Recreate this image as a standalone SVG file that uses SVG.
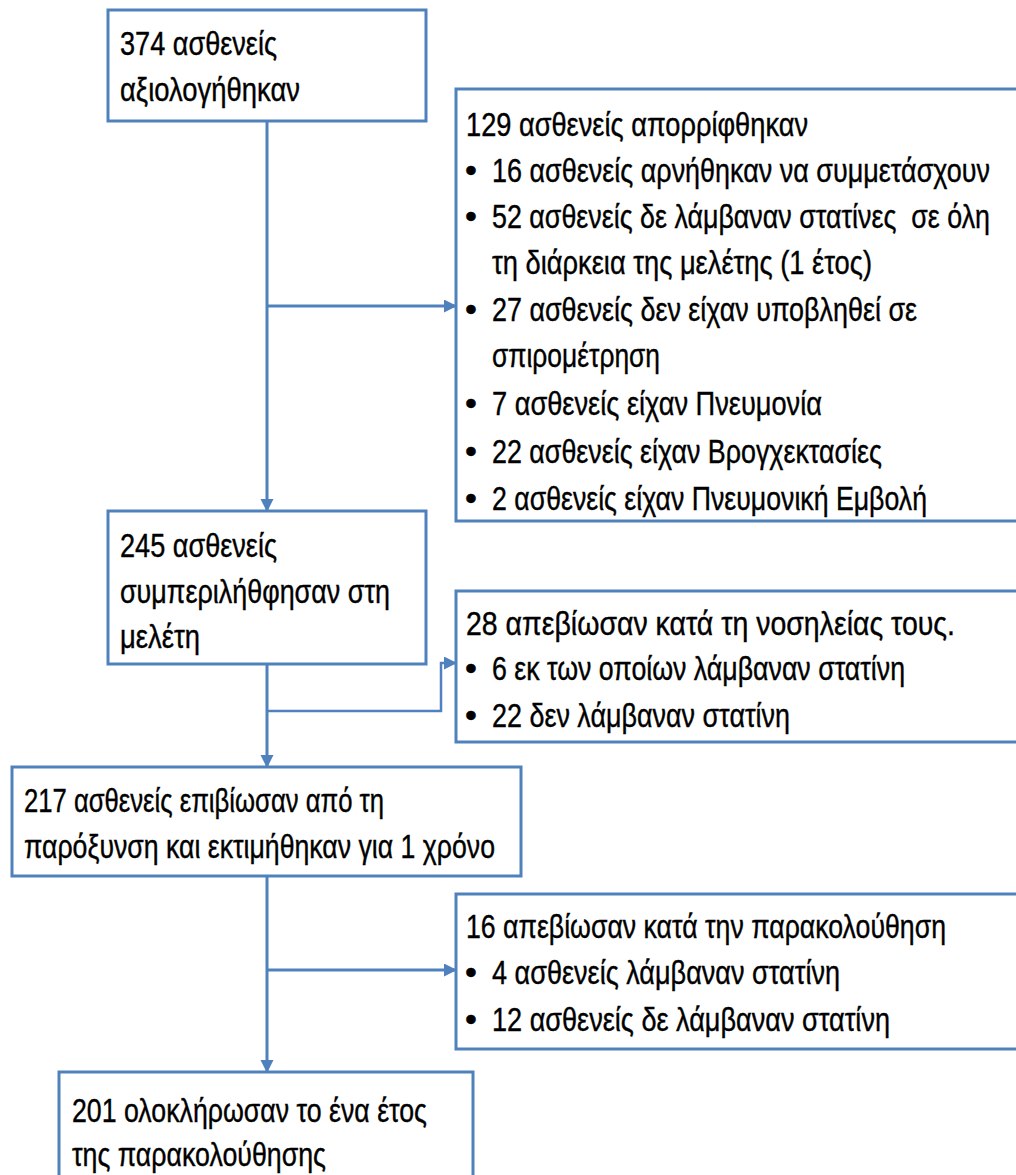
<svg xmlns="http://www.w3.org/2000/svg" width="1016" height="1175" viewBox="0 0 1016 1175">
<style>
.box{fill:#fff;stroke:#4F81BD;stroke-width:3}
.t{font-family:"Liberation Sans",Arial,sans-serif;font-size:34px;fill:#000;stroke:#000;stroke-width:0.4}
.c{fill:none;stroke:#4F81BD;stroke-width:3}
</style>
<defs>
<marker id="ah" markerUnits="userSpaceOnUse" markerWidth="14" markerHeight="14" refX="12" refY="6.5" orient="auto">
<path d="M0,0 L13,6.5 L0,13 Z" fill="#4F81BD"/>
</marker>
</defs>
<g id="connectors">
<path class="c" d="M267,121 V511" marker-end="url(#ah)"/>
<path class="c" d="M267,306 H456" marker-end="url(#ah)"/>
<path class="c" d="M267,664 V767" marker-end="url(#ah)"/>
<path class="c" style="stroke-width:2.5" d="M267,711 H441 V663 H456" marker-end="url(#ah)"/>
<path class="c" d="M267,876 V1072" marker-end="url(#ah)"/>
<path class="c" d="M267,970 H456" marker-end="url(#ah)"/>
</g>
<g id="n374">
<rect class="box" x="108" y="10" width="318" height="111"/>
<text class="t" transform="matrix(0.8 0 0 1 120 55)" textLength="196.25" lengthAdjust="spacingAndGlyphs">374 ασθενείς</text>
<text class="t" transform="matrix(0.8 0 0 1 120 101)" textLength="225" lengthAdjust="spacingAndGlyphs">αξιολογήθηκαν</text>
</g>
<g id="n129">
<rect class="box" x="456" y="89" width="562" height="432"/>
<text class="t" transform="matrix(0.8 0 0 1 466 136)" textLength="427.5" lengthAdjust="spacingAndGlyphs">129 ασθενείς απορρίφθηκαν</text>
<text class="t" x="465" y="182">•</text>
<text class="t" transform="matrix(0.8 0 0 1 492 182)" textLength="622.5" lengthAdjust="spacingAndGlyphs">16 ασθενείς αρνήθηκαν να συμμετάσχουν</text>
<text class="t" x="465" y="228">•</text>
<text class="t" transform="matrix(0.8 0 0 1 492 228)" textLength="622.5" lengthAdjust="spacingAndGlyphs" style="white-space:pre">52 ασθενείς δε λάμβαναν στατίνες  σε όλη</text>
<text class="t" transform="matrix(0.8 0 0 1 492 274)" textLength="475" lengthAdjust="spacingAndGlyphs">τη διάρκεια της μελέτης (1 έτος)</text>
<text class="t" x="465" y="321">•</text>
<text class="t" transform="matrix(0.8 0 0 1 492 321)" textLength="531.25" lengthAdjust="spacingAndGlyphs">27 ασθενείς δεν είχαν υποβληθεί σε</text>
<text class="t" transform="matrix(0.8 0 0 1 492 367)" textLength="210" lengthAdjust="spacingAndGlyphs">σπιρομέτρηση</text>
<text class="t" x="465" y="415">•</text>
<text class="t" transform="matrix(0.8 0 0 1 492 415)" textLength="412.5" lengthAdjust="spacingAndGlyphs">7 ασθενείς είχαν Πνευμονία</text>
<text class="t" x="465" y="463">•</text>
<text class="t" transform="matrix(0.8 0 0 1 492 463)" textLength="487.5" lengthAdjust="spacingAndGlyphs">22 ασθενείς είχαν Βρογχεκτασίες</text>
<text class="t" x="465" y="510">•</text>
<text class="t" transform="matrix(0.8 0 0 1 492 510)" textLength="543.75" lengthAdjust="spacingAndGlyphs">2 ασθενείς είχαν Πνευμονική Εμβολή</text>
</g>
<g id="n245">
<rect class="box" x="108" y="511" width="318" height="153"/>
<text class="t" transform="matrix(0.8 0 0 1 120 557)" textLength="196.25" lengthAdjust="spacingAndGlyphs">245 ασθενείς</text>
<text class="t" transform="matrix(0.8 0 0 1 120 603)" textLength="337.5" lengthAdjust="spacingAndGlyphs">συμπεριλήθφησαν στη</text>
<text class="t" transform="matrix(0.8 0 0 1 120 648)" textLength="100" lengthAdjust="spacingAndGlyphs">μελέτη</text>
</g>
<g id="n28">
<rect class="box" x="456" y="591" width="562" height="151"/>
<text class="t" transform="matrix(0.8 0 0 1 466 635)" textLength="611.25" lengthAdjust="spacingAndGlyphs">28 απεβίωσαν κατά τη νοσηλείας τους.</text>
<text class="t" x="465" y="680">•</text>
<text class="t" transform="matrix(0.8 0 0 1 492 680)" textLength="516.25" lengthAdjust="spacingAndGlyphs">6 εκ των οποίων λάμβαναν στατίνη</text>
<text class="t" x="465" y="727">•</text>
<text class="t" transform="matrix(0.8 0 0 1 492 727)" textLength="372.5" lengthAdjust="spacingAndGlyphs">22 δεν λάμβαναν στατίνη</text>
</g>
<g id="n217">
<rect class="box" x="12" y="767" width="509" height="109"/>
<text class="t" transform="matrix(0.8 0 0 1 24 812)" textLength="450" lengthAdjust="spacingAndGlyphs">217 ασθενείς επιβίωσαν από τη</text>
<text class="t" transform="matrix(0.8 0 0 1 24 858)" textLength="588.75" lengthAdjust="spacingAndGlyphs">παρόξυνση και εκτιμήθηκαν για 1 χρόνο</text>
</g>
<g id="n16">
<rect class="box" x="456" y="894" width="562" height="155"/>
<text class="t" transform="matrix(0.8 0 0 1 466 938)" textLength="600" lengthAdjust="spacingAndGlyphs">16 απεβίωσαν κατά την παρακολούθηση</text>
<text class="t" x="465" y="984">•</text>
<text class="t" transform="matrix(0.8 0 0 1 492 984)" textLength="435" lengthAdjust="spacingAndGlyphs">4 ασθενείς λάμβαναν στατίνη</text>
<text class="t" x="465" y="1031">•</text>
<text class="t" transform="matrix(0.8 0 0 1 492 1031)" textLength="497.5" lengthAdjust="spacingAndGlyphs">12 ασθενείς δε λάμβαναν στατίνη</text>
</g>
<g id="n201">
<rect class="box" x="59" y="1072" width="414" height="105"/>
<text class="t" transform="matrix(0.8 0 0 1 72 1122)" textLength="443.75" lengthAdjust="spacingAndGlyphs">201 ολοκλήρωσαν το ένα έτος</text>
<text class="t" transform="matrix(0.8 0 0 1 72 1166)" textLength="317.5" lengthAdjust="spacingAndGlyphs">της παρακολούθησης</text>
</g>
</svg>
